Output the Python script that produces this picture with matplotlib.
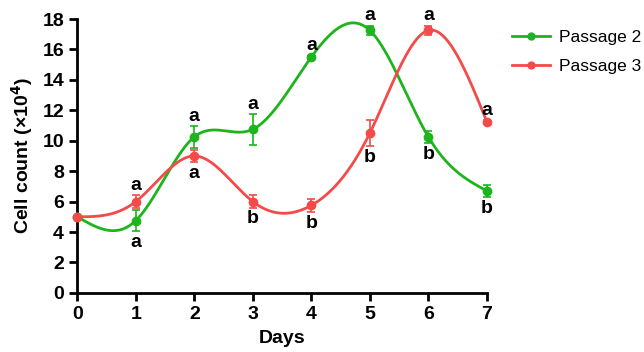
import numpy as np
import matplotlib
matplotlib.use("Agg")
import matplotlib.pyplot as plt

days = [0, 1, 2, 3, 4, 5, 6, 7]
p2 = [5.0, 4.75, 10.25, 10.75, 15.5, 17.25, 10.25, 6.7]
p2_err = [0.0, 0.7, 0.7, 1.0, 0.1, 0.3, 0.4, 0.4]
p3 = [5.0, 6.0, 9.0, 6.0, 5.75, 10.5, 17.25, 11.25]
p3_err = [0.0, 0.4, 0.4, 0.4, 0.45, 0.85, 0.3, 0.1]
p2_letters = ['', 'a', 'a', 'a', 'a', 'a', 'b', 'b']
p2_above = [True, False, True, True, True, True, False, False]
p3_letters = ['', 'a', 'a', 'b', 'b', 'b', 'a', 'a']
p3_above = [True, True, False, False, False, False, True, True]

green = '#1db41d'
red = '#f44a4a'

plt.rcParams['font.family'] = ['Liberation Sans', 'DejaVu Sans']


def natural_spline(x, y, n=300):
    # plain natural cubic spline, just for the smooth connecting line
    x = np.asarray(x, float)
    y = np.asarray(y, float)
    k = len(x)
    h = np.diff(x)
    A = np.zeros((k, k))
    b = np.zeros(k)
    A[0, 0] = 1
    A[-1, -1] = 1
    for i in range(1, k - 1):
        A[i, i - 1] = h[i - 1]
        A[i, i] = 2 * (h[i - 1] + h[i])
        A[i, i + 1] = h[i]
        b[i] = 3 * ((y[i + 1] - y[i]) / h[i] - (y[i] - y[i - 1]) / h[i - 1])
    c = np.linalg.solve(A, b)
    xs = np.linspace(x[0], x[-1], n)
    ys = np.zeros_like(xs)
    for j, xv in enumerate(xs):
        i = min(np.searchsorted(x, xv, side='right') - 1, k - 2)
        bb = (y[i + 1] - y[i]) / h[i] - h[i] * (2 * c[i] + c[i + 1]) / 3
        d = (c[i + 1] - c[i]) / (3 * h[i])
        t = xv - x[i]
        ys[j] = y[i] + bb * t + c[i] * t ** 2 + d * t ** 3
    return xs, ys


fig = plt.figure(figsize=(6.44, 3.52), dpi=100)
ax = fig.add_axes([0.12, 0.168, 0.636, 0.778])

for vals, err, col, lab, letters, above in [
        (p2, p2_err, green, 'Passage 2', p2_letters, p2_above),
        (p3, p3_err, red, 'Passage 3', p3_letters, p3_above)]:
    xs, ys = natural_spline(days, vals)
    ax.plot(xs, ys, color=col, lw=2, zorder=2, clip_on=False)
    ax.errorbar(days, vals, yerr=err, fmt='o', color=col, ms=6,
                elinewidth=1.2, capsize=3, capthick=1.2, zorder=3, clip_on=False)
    ax.plot([], [], color=col, lw=2, marker='o', ms=5, label=lab)
    for x, v, e, t, up in zip(days, vals, err, letters, above):
        if not t:
            continue
        if up:
            ax.annotate(t, (x, v + e), xytext=(0, 1), textcoords='offset points',
                        ha='center', va='bottom', fontsize=14, fontweight='bold')
        else:
            ax.annotate(t, (x, v - e), xytext=(0, -2), textcoords='offset points',
                        ha='center', va='top', fontsize=14, fontweight='bold')

ax.set_xlim(0, 7)
ax.set_ylim(0, 18)
ax.set_xticks(days)
ax.set_yticks(range(0, 19, 2))
ax.spines['top'].set_visible(False)
ax.spines['right'].set_visible(False)
ax.spines['left'].set_linewidth(2)
ax.spines['bottom'].set_linewidth(2)
ax.tick_params(width=2, length=6, labelsize=14)
for t in ax.get_xticklabels() + ax.get_yticklabels():
    t.set_fontweight('bold')
ax.set_xlabel('Days', fontsize=14, fontweight='bold', labelpad=5)
ax.set_ylabel('Cell count (×10$^\\mathbf{4}$)', fontsize=14, fontweight='bold',
              labelpad=5)

fig.legend(loc='upper left', bbox_to_anchor=(512 / 644, 1 - 30 / 352),
           frameon=False, fontsize=12.5, handlelength=2.2, handletextpad=0.5,
           labelspacing=0.8, borderpad=0, borderaxespad=0)

fig.savefig('out.png', dpi=100)
